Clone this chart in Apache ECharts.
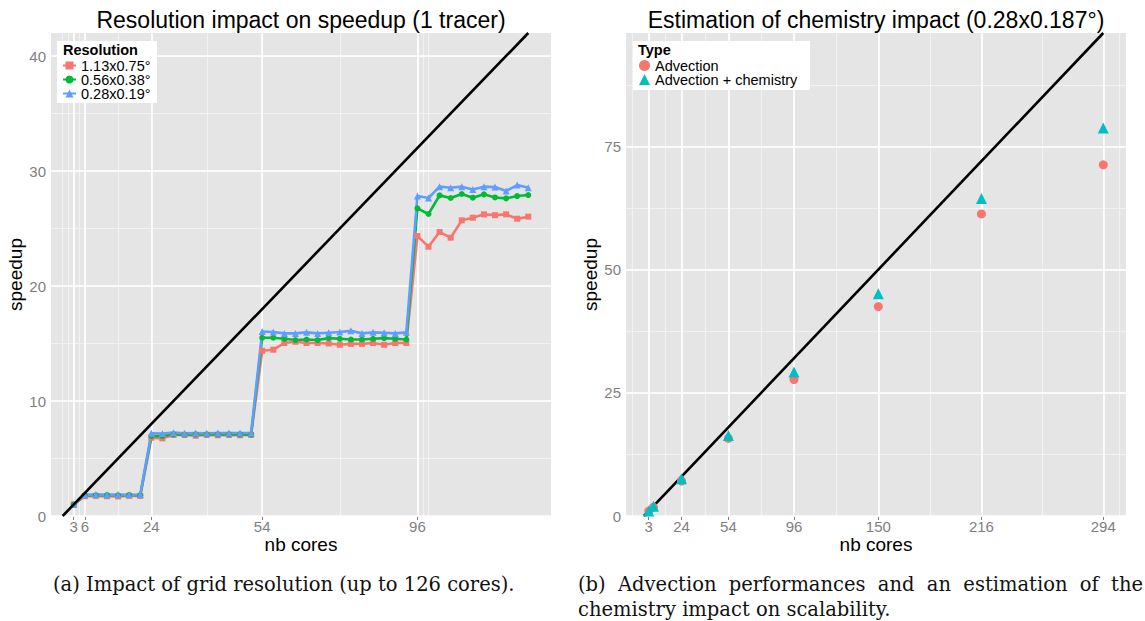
<!DOCTYPE html>
<html><head><meta charset="utf-8">
<script src="https://cdn.jsdelivr.net/npm/echarts@6/dist/echarts.min.js"></script>
<style>html,body{margin:0;padding:0;background:#fff}#c{width:1145px;height:621px}</style>
</head><body><div id="c"></div><script>
// ---- Data: left panel (1 tracer, up to 126 cores) ----
const coresA = [3,6,9,12,15,18,21, 24,27,30,33,36,39,42,45,48,51, 54,57,60,63,66,69,72,75,78,81,84,87,90,93, 96,99,102,105,108,111,114,117,120,123,126];
const speedRes113 = [1.0,1.72,1.75,1.72,1.7,1.75,1.75, 6.8,6.75,7.05,7.05,6.98,7.05,7.02,7.05,7.02,7.05, 14.37,14.46,15.04,15.15,15.04,15.04,15.0,14.89,14.97,14.97,15.04,14.89,15.04,15.04, 24.34,23.42,24.69,24.2,25.71,25.94,26.23,26.16,26.23,25.85,26.03];
const speedRes056 = [1.0,1.8,1.8,1.82,1.8,1.82,1.8, 6.95,6.95,7.1,7.08,7.1,7.1,7.1,7.1,7.1,7.08, 15.5,15.5,15.41,15.3,15.35,15.3,15.47,15.41,15.35,15.35,15.41,15.47,15.41,15.35, 26.75,26.26,27.88,27.65,28.0,27.68,27.97,27.7,27.62,27.82,27.91];
const speedRes028 = [1.0,1.85,1.88,1.85,1.87,1.85,1.87, 7.2,7.18,7.25,7.2,7.22,7.2,7.22,7.22,7.22,7.22, 16.05,16.0,15.88,15.88,15.97,15.88,15.94,16.0,16.1,15.88,15.97,15.94,15.88,15.97, 27.82,27.65,28.64,28.55,28.64,28.4,28.64,28.6,28.26,28.78,28.55];
const seriesNamesA = ['1.13x0.75°','0.56x0.38°','0.28x0.19°'];
const xTicksA = [3,6,24,54,96];
const yTicksA = [0,10,20,30,40];
const idealA = [[0,0],[126,42]];

// ---- Data: right panel (0.28x0.187°) ----
const coresB = [3,6,24,54,96,150,216,294];
const speedAdvection = [1.0,1.8,7.1,15.74,27.7,42.5,61.3,71.25];
const speedAdvChem = [1.0,2.0,7.57,16.35,29.2,45.1,64.4,78.7];
const seriesNamesB = ['Advection','Advection + chemistry'];
const xTicksB = [3,24,54,96,150,216,294];
const yTicksB = [0,25,50,75];
const idealB = [[0,0],[294,98]];

const F = 'Liberation Sans, Arial, sans-serif';
const SERIF = 'DejaVu Serif, serif';
const GREY = '#7F7F7F';
const COLS3 = ['#F8766D','#00BA38','#619CFF'];
const COLS2 = ['#F8766D','#00BFC4'];

// ggplot-style minor breaks (between majors, extended one step toward limits)
function minorBreaks(b, lo, hi){
  const bd = b[1]-b[0];
  const bb = b.slice();
  if (lo < bb[0]) bb.unshift(bb[0]-bd);
  if (hi > bb[bb.length-1]) bb.push(bb[bb.length-1]+bd);
  const out = [];
  for (let i=0;i<bb.length-1;i++){ out.push(bb[i], (bb[i]+bb[i+1])/2); }
  out.push(bb[bb.length-1]);
  return out.filter(v=>v>=lo && v<=hi);
}
function gridLines(xt, yt, xr, yr){
  const d = [];
  minorBreaks(xt, xr[0], xr[1]).forEach(v=>d.push({xAxis:v, lineStyle:{color:'#F2F2F2', width:1, type:'solid'}}));
  minorBreaks(yt, yr[0], yr[1]).forEach(v=>d.push({yAxis:v, lineStyle:{color:'#F2F2F2', width:1, type:'solid'}}));
  xt.forEach(v=>d.push({xAxis:v, lineStyle:{color:'#FFFFFF', width:1.6, type:'solid'}}));
  yt.forEach(v=>d.push({yAxis:v, lineStyle:{color:'#FFFFFF', width:1.6, type:'solid'}}));
  return d;
}

const xRangeA = [-3.15, 132.15], yRangeA = [0, 42];
const xRangeB = [-11.55, 308.55], yRangeB = [0, 98];

function xAxisCfg(idx, ticks, range){
  return {type:'value', gridIndex:idx, min:range[0], max:range[1],
    axisLine:{show:false},
    axisTick:{show:true, customValues:ticks, length:4, lineStyle:{color:GREY, width:1}},
    axisLabel:{customValues:ticks, color:GREY, fontSize:15, fontFamily:F, margin:3},
    splitLine:{show:false},
    name:'nb cores', nameLocation:'middle', nameGap:19, nameMoveOverlap:false,
    nameTextStyle:{fontSize:19, color:'#000', fontFamily:F}};
}
function yAxisCfg(idx, ticks, range){
  return {type:'value', gridIndex:idx, min:range[0], max:range[1],
    axisLine:{show:false},
    axisTick:{show:true, customValues:ticks, length:4, lineStyle:{color:GREY, width:1}},
    axisLabel:{customValues:ticks, color:GREY, fontSize:15, fontFamily:F, margin:5},
    splitLine:{show:false},
    name:'speedup', nameLocation:'middle', nameGap:22, nameRotate:90,
    nameTextStyle:{fontSize:19, color:'#000', fontFamily:F}};
}

const symA = ['rect','circle','triangle'];
const symSizeA = [6,6,7];
const dataA = [speedRes113, speedRes056, speedRes028];
const seriesA = dataA.map((arr,i)=>({
  type:'line', name:seriesNamesA[i], xAxisIndex:0, yAxisIndex:0,
  data: coresA.map((c,j)=>[c, arr[j]]),
  symbol:symA[i], symbolSize:symSizeA[i], showSymbol:true,
  lineStyle:{color:COLS3[i], width:2.6}, itemStyle:{color:COLS3[i]}, z:3, silent:true
}));

const symB = ['circle','triangle'];
const symSizeB = [9,11];
const dataB = [speedAdvection, speedAdvChem];
const seriesB = dataB.map((arr,i)=>({
  type:'scatter', name:seriesNamesB[i], xAxisIndex:1, yAxisIndex:1,
  data: coresB.map((c,j)=>[c, arr[j]]),
  symbol:symB[i], symbolSize:symSizeB[i],
  itemStyle:{color:COLS2[i], opacity:1}, z:4, silent:true
}));

// caption text; line (b1) is justified to the given width
const capA = '(a) Impact of grid resolution (up to 126 cores).';
const capB1 = '(b) Advection performances and an estimation of the';
const capB2 = 'chemistry impact on scalability.';
const CAP_FONT = '19.5px ' + SERIF;
function justifiedWords(text, x0, width, y){
  const cv = document.createElement('canvas').getContext('2d');
  cv.font = CAP_FONT;
  const words = text.split(' ');
  const ws = words.map(w=>cv.measureText(w).width);
  const sum = ws.reduce((a,b)=>a+b,0);
  const gap = (width - sum)/(words.length-1);
  let x = x0; const els = [];
  words.forEach((w,i)=>{
    els.push({type:'text', x:x, y:y, style:{text:w, font:CAP_FONT, fill:'#111', textVerticalAlign:'middle'}});
    x += ws[i] + gap;
  });
  return els;
}

const option = {
  animation:false,
  backgroundColor:'#FFFFFF',
  grid:[
    {left:51, top:33, width:500, height:483, show:true, backgroundColor:'#E5E5E5', borderWidth:0, containLabel:false},
    {left:626, top:33, width:500, height:483, show:true, backgroundColor:'#E5E5E5', borderWidth:0, containLabel:false}
  ],
  xAxis:[xAxisCfg(0, xTicksA, xRangeA), xAxisCfg(1, xTicksB, xRangeB)],
  yAxis:[yAxisCfg(0, yTicksA, yRangeA), yAxisCfg(1, yTicksB, yRangeB)],
  legend:[
    {data:seriesNamesA, orient:'vertical', left:62, top:58, padding:0, itemGap:-1,
     itemWidth:13, itemHeight:10, selectedMode:false, z:6,
     textStyle:{fontSize:14.5, fontFamily:F, color:'#000'}},
    {data:seriesNamesB, orient:'vertical', left:639, top:58, padding:0, itemGap:-1,
     itemWidth:11, itemHeight:11, selectedMode:false, z:6,
     textStyle:{fontSize:14.5, fontFamily:F, color:'#000'}}
  ],
  graphic:[
    {type:'rect', z:3, shape:{x:57, y:41, width:100, height:62}, style:{fill:'#FFFFFF'}},
    {type:'text', z:5, x:63, y:50, style:{text:'Resolution', font:'bold 14.5px '+F, fill:'#000', textVerticalAlign:'middle'}},
    {type:'rect', z:3, shape:{x:633, y:41, width:177, height:49}, style:{fill:'#FFFFFF'}},
    {type:'text', z:5, x:638, y:50, style:{text:'Type', font:'bold 14.5px '+F, fill:'#000', textVerticalAlign:'middle'}},
    {type:'text', x:301, y:20, style:{text:'Resolution impact on speedup (1 tracer)', font:'23px '+F, fill:'#000', textAlign:'center', textVerticalAlign:'middle'}},
    {type:'text', x:876, y:20, style:{text:'Estimation of chemistry impact (0.28x0.187°)', font:'23px '+F, fill:'#000', textAlign:'center', textVerticalAlign:'middle'}},
    {type:'text', x:53, y:584, style:{text:capA, font:CAP_FONT, fill:'#111', textVerticalAlign:'middle'}},
    ...justifiedWords(capB1, 578, 565, 584),
    {type:'text', x:578, y:609, style:{text:capB2, font:CAP_FONT, fill:'#111', textVerticalAlign:'middle'}}
  ],
  series:[
    {type:'line', name:'gridA', xAxisIndex:0, yAxisIndex:0, data:[], z:1, silent:true,
     markLine:{z:1, silent:true, symbol:['none','none'], label:{show:false}, animation:false, data:gridLines(xTicksA, yTicksA, xRangeA, yRangeA)}},
    {type:'line', name:'gridB', xAxisIndex:1, yAxisIndex:1, data:[], z:1, silent:true,
     markLine:{z:1, silent:true, symbol:['none','none'], label:{show:false}, animation:false, data:gridLines(xTicksB, yTicksB, xRangeB, yRangeB)}},
    ...seriesA,
    {type:'line', name:'idealA', xAxisIndex:0, yAxisIndex:0, data:idealA, showSymbol:false, symbol:'none',
     lineStyle:{color:'#000', width:2.6}, z:5, silent:true},
    {type:'line', name:'idealB', xAxisIndex:1, yAxisIndex:1, data:idealB, showSymbol:false, symbol:'none',
     lineStyle:{color:'#000', width:2.6}, z:3, silent:true},
    ...seriesB
  ]
};
const chart = echarts.init(document.getElementById('c'), null, {renderer:'svg'});
chart.setOption(option);
</script></body></html>
